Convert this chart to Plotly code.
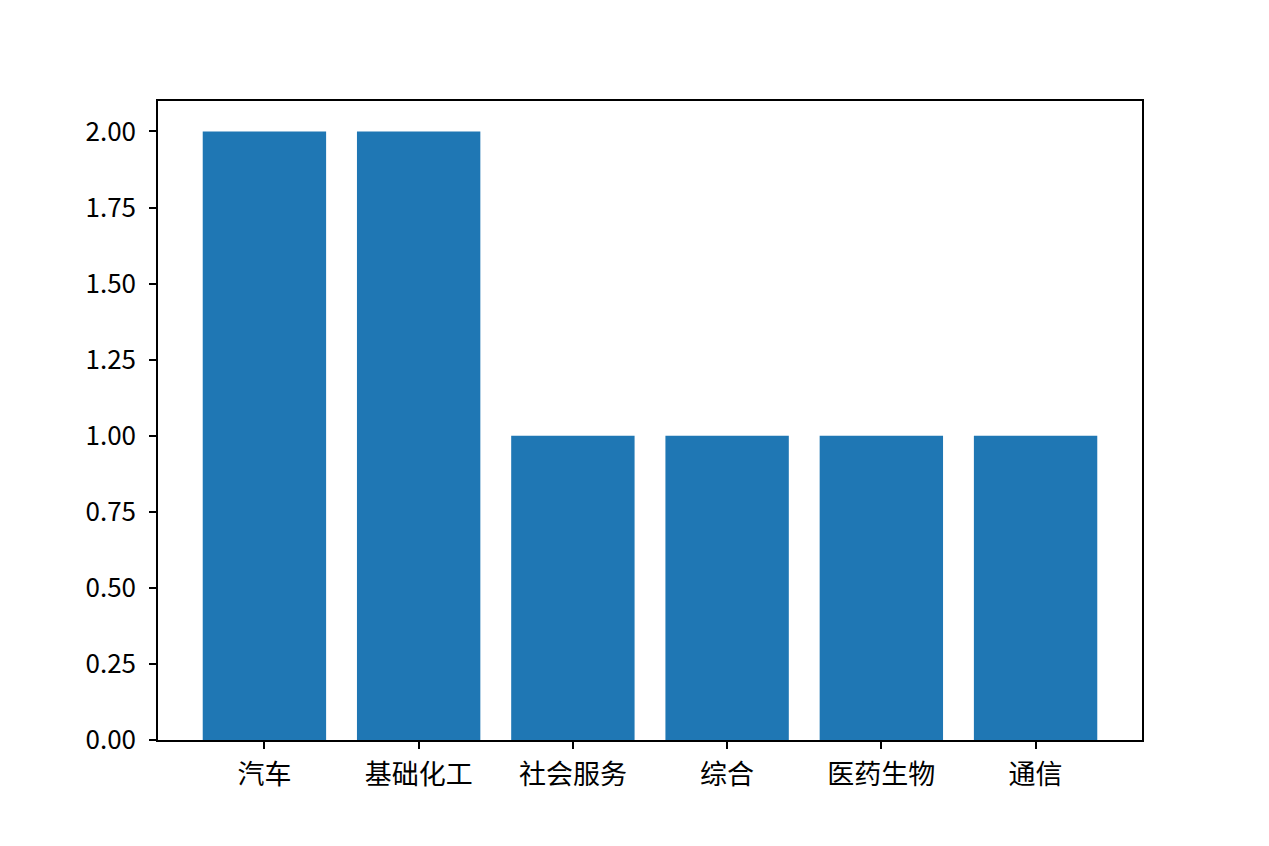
import plotly.graph_objs as go

# data
industries = ['汽车', '基础化工', '社会服务', '综合', '医药生物', '通信']
counts = [2, 2, 1, 1, 1, 1]
y_ticks = [0, 0.25, 0.5, 0.75, 1.0, 1.25, 1.5, 1.75, 2.0]
y_tick_text = ['0.00', '0.25', '0.50', '0.75', '1.00', '1.25', '1.50', '1.75', '2.00']

fig = go.Figure(go.Bar(
    x=list(range(len(industries))),
    y=counts,
    width=0.8,
    marker=dict(color='#1f77b4', line=dict(width=0)),
))

axis_style = dict(
    showline=True, linecolor='black', linewidth=1.5, mirror=True,
    ticks='outside', ticklen=7, tickwidth=1.5, tickcolor='black',
    showgrid=False, zeroline=False,
)

fig.update_layout(
    width=1269, height=846,
    margin=dict(l=150, r=135, t=93, b=114),
    plot_bgcolor='white', paper_bgcolor='white',
    showlegend=False,
    xaxis=dict(range=[-0.69, 5.69], tickvals=list(range(len(industries))),
               ticktext=industries, ticklabelstandoff=3,
               tickfont=dict(family='Noto Sans CJK SC', size=27, color='black'),
               **axis_style),
    yaxis=dict(range=[0, 2.1], tickvals=y_ticks, ticktext=y_tick_text,
               ticklabelstandoff=8,
               tickfont=dict(family='Noto Sans CJK SC', size=26, color='black'),
               **axis_style),
)

fig.write_html("out.html")
